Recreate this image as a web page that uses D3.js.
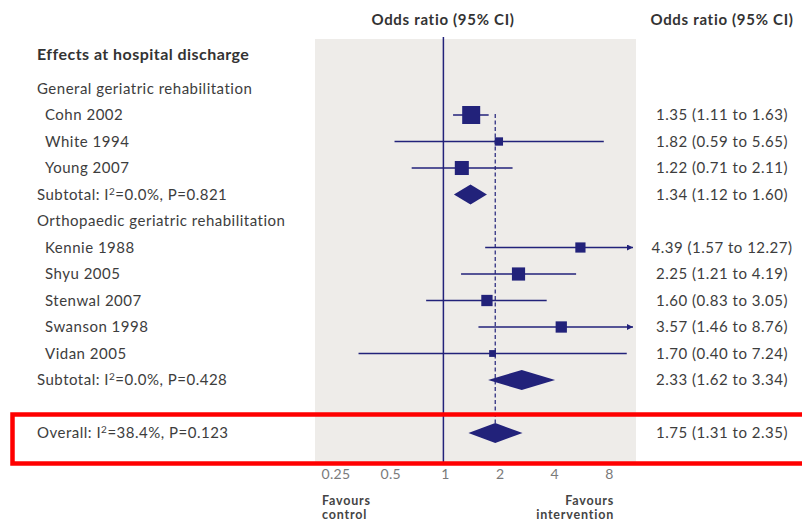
<!DOCTYPE html>
<html><head><meta charset="utf-8">
<script src="https://cdn.jsdelivr.net/npm/d3@7"></script>
<style>
html,body{margin:0;padding:0;background:#fff;}
svg{display:block;font-family:Lato,"Open Sans",sans-serif;}
</style></head>
<body><svg id="c" width="802" height="524"></svg>
<script>
// ---- data ----
const groupNames = ["General geriatric rehabilitation", "Orthopaedic geriatric rehabilitation"];
const studyNames = ["Cohn 2002","White 1994","Young 2007","Kennie 1988","Shyu 2005","Stenwal 2007","Swanson 1998","Vidan 2005"];
const studyGroup = [0,0,0,1,1,1,1,1];
const studyOR = [1.35,1.82,1.22,4.39,2.25,1.60,3.57,1.70];
const studyLo = [1.11,0.59,0.71,1.57,1.21,0.83,1.46,0.40];
const studyHi = [1.63,5.65,2.11,12.27,4.19,3.05,8.76,7.24];
const studyWeight = [28,6,17,9,15,11,11,4];
const groupOR = [1.34,2.33];
const groupLo = [1.12,1.62];
const groupHi = [1.60,3.34];
const groupI2 = ["0.0","0.0"];
const groupP = ["0.821","0.428"];
const overallOR = 1.75, overallLo = 1.31, overallHi = 2.35, overallI2 = "38.4", overallP = "0.123";
const tickValues = [0.25,0.5,1,2,4,8];
const tickLabels = ["0.25","0.5","1","2","4","8"];

// ---- build rows ----
const rows = [];
groupNames.forEach((g,gi)=>{
  rows.push({type:"group", label:g});
  studyNames.forEach((s,i)=>{ if(studyGroup[i]===gi) rows.push({type:"study", label:s, or:studyOR[i], lo:studyLo[i], hi:studyHi[i], w:studyWeight[i]}); });
  rows.push({type:"sub", i2:groupI2[gi], p:groupP[gi], or:groupOR[gi], lo:groupLo[gi], hi:groupHi[gi]});
});
rows.push({type:"blank"});
rows.push({type:"overall", i2:overallI2, p:overallP, or:overallOR, lo:overallLo, hi:overallHi});

const svg = d3.select("#c");
const navy = "#22227a";
const txt = "#3d3d3d";
const FS = 15, LS = 0.5;
const x = d3.scaleLog().base(2).domain([0.25,8]).range([315,636]);
const xAxisScale = d3.scaleLog().base(2).domain([0.25,8]).range([335.5,609]);
const y = d3.scaleLinear().domain([0,1]).range([88.5,115]);
const size = d3.scaleSqrt().domain([0,28]).range([0,18]);

// panel
svg.append("rect").attr("x",x(0.25)).attr("y",39).attr("width",x(8)-x(0.25)).attr("height",424).attr("fill","#eeece9");

// headers
[443,722].forEach(cx=>{
  svg.append("text").attr("x",cx).attr("y",25).attr("text-anchor","middle").attr("font-weight","bold").attr("font-size",15)
    .attr("letter-spacing",0.7).attr("fill","#333").text("Odds ratio (95% CI)");
});
svg.append("text").attr("x",37).attr("y",y(-1.27)+5).attr("font-weight","bold").attr("font-size",16).attr("letter-spacing",0.45).attr("fill","#333").text("Effects at hospital discharge");

// line of no effect
svg.append("line").attr("x1",x(1)).attr("x2",x(1)).attr("y1",37).attr("y2",462).attr("stroke",navy).attr("stroke-width",1.5);
// overall dashed line
svg.append("line").attr("x1",x(overallOR)).attr("x2",x(overallOR)).attr("y1",y(1)-1).attr("y2",y(13)-10).attr("stroke",navy).attr("stroke-width",1.2).attr("stroke-dasharray","4,2.5");

const defs = svg.append("defs");
defs.append("marker").attr("id","arr").attr("viewBox","0 0 10 10").attr("refX",10).attr("refY",5)
  .attr("markerWidth",9).attr("markerHeight",6).attr("markerUnits","userSpaceOnUse").attr("orient","auto")
  .append("path").attr("d","M0,0L10,5L0,10Z").attr("fill",navy);

function supLabel(sel, prefix, i2, p){
  sel.append("tspan").text(prefix+" I");
  sel.append("tspan").attr("dy",-5).attr("font-size",10).text("2");
  sel.append("tspan").attr("dy",5).text("="+i2+"%, P="+p);
}

rows.forEach((r,i)=>{
  const yy = y(i);
  if(r.type==="group"){
    svg.append("text").attr("x",37).attr("y",yy+5).attr("font-size",FS).attr("letter-spacing",LS).attr("fill",txt).text(r.label);
  } else if(r.type==="study"){
    svg.append("text").attr("x",45).attr("y",yy+5).attr("font-size",FS).attr("letter-spacing",LS).attr("fill",txt).text(r.label);
    const hiC = Math.min(r.hi, 8), loC = Math.max(r.lo, 0.25);
    const ln = svg.append("line").attr("x1",x(loC)).attr("x2",r.hi>8 ? x(hiC)-3 : x(hiC)).attr("y1",yy).attr("y2",yy).attr("stroke",navy).attr("stroke-width",1.4);
    if(r.hi>8) ln.attr("marker-end","url(#arr)");
    const s = size(r.w);
    svg.append("rect").attr("x",x(r.or)-s/2).attr("y",yy-s/2).attr("width",s).attr("height",s).attr("fill",navy);
  } else if(r.type==="sub" || r.type==="overall"){
    const t = svg.append("text").attr("x",37).attr("y",yy+5).attr("font-size",FS).attr("letter-spacing",LS).attr("fill",txt);
    supLabel(t, r.type==="sub" ? "Subtotal:" : "Overall:", r.i2, r.p);
    const h = 10;
    svg.append("path").attr("d",`M${x(r.lo)},${yy}L${x(r.or)},${yy-h}L${x(r.hi)},${yy}L${x(r.or)},${yy+h}Z`).attr("fill",navy);
  }
  if(r.or!==undefined){
    svg.append("text").attr("x",722).attr("y",yy+5).attr("text-anchor","middle").attr("font-size",FS).attr("letter-spacing",LS).attr("fill",txt)
      .text(`${r.or.toFixed(2)} (${r.lo.toFixed(2)} to ${r.hi.toFixed(2)})`);
  }
});

// axis (tick labels only)
const ax = svg.append("g").attr("transform","translate(0,469)")
  .call(d3.axisBottom(xAxisScale).tickValues(tickValues).tickSize(0).tickPadding(0).tickFormat((d,i)=>tickLabels[i]));
ax.select(".domain").remove();
ax.selectAll("text").attr("font-family","Lato,'Open Sans',sans-serif").attr("font-size",14).attr("letter-spacing",0.3).attr("fill","#7a7a7a");

// favours labels
const fav = [{t:["Favours","control"], x:322, a:"start"},{t:["Favours","intervention"], x:614, a:"end"}];
fav.forEach(f=>{
  f.t.forEach((s,k)=>{
    svg.append("text").attr("x",f.x).attr("y",504.5+k*14.5).attr("text-anchor",f.a).attr("font-weight","bold").attr("font-size",12.5).attr("letter-spacing",0.8).attr("fill","#444").text(s);
  });
});

// red highlight box
svg.append("rect").attr("x",12.5).attr("y",414.5).attr("width",800).attr("height",49).attr("fill","none").attr("stroke","#ff0000").attr("stroke-width",4.5);
</script></body></html>
